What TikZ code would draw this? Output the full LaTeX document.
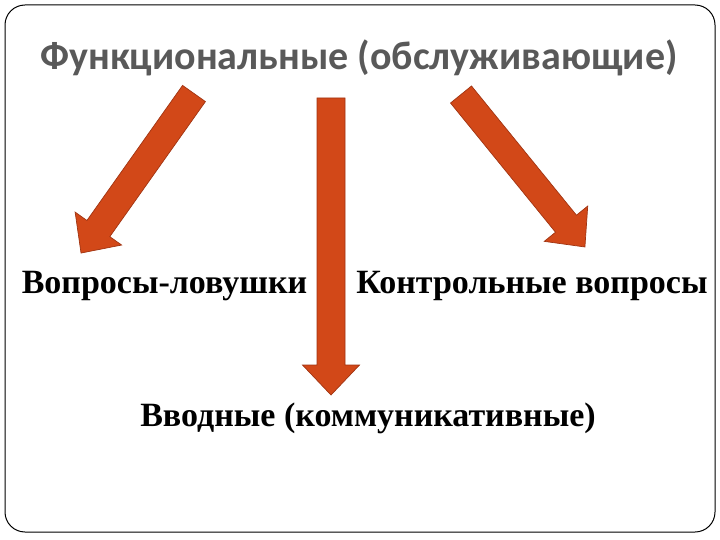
\documentclass[tikz,border=0pt]{standalone}
\usepackage{fontspec}
\setmainfont{Liberation Serif}
\newfontfamily\titlefont{Carlito}
\definecolor{arrfill}{RGB}{210,72,24}
\definecolor{arrdraw}{RGB}{160,52,18}
\definecolor{titlegray}{RGB}{89,89,89}
\begin{document}
\begin{tikzpicture}[x=1pt,y=-1pt,
  bigarrow/.style={fill=arrfill,draw=arrdraw,line width=0.7pt,line join=miter},
  titletext/.style={font=\titlefont\bfseries\fontsize{40}{48}\selectfont,text=titlegray,anchor=base,inner sep=0pt},
  labeltext/.style={font=\bfseries\fontsize{34}{40}\selectfont,text=black,anchor=base,inner sep=0pt}]
\useasboundingbox (0,0) rectangle (720,540);
\draw[line width=1pt,rounded corners=20pt] (5,5) rectangle (715,532);
\node[titletext] (title) at (359,70) {Функциональные (обслуживающие)};
% left arrow
\begin{scope}[shift={(194,93.5)},rotate=-125.3]
\filldraw[bigarrow] (0,-14) -- (165.5,-14) -- (165.5,-28.5) -- (195.5,0) -- (165.5,28.5) -- (165.5,14) -- (0,14) -- cycle;
\end{scope}
% middle arrow
\begin{scope}[shift={(331,98)},rotate=-90]
\filldraw[bigarrow] (0,-14) -- (267,-14) -- (267,-28.5) -- (297,0) -- (267,28.5) -- (267,14) -- (0,14) -- cycle;
\end{scope}
% right arrow
\begin{scope}[shift={(461,94.5)},rotate=-50.9]
\filldraw[bigarrow] (0,-13.5) -- (166.5,-13.5) -- (166.5,-28) -- (196.5,0) -- (166.5,28) -- (166.5,13.5) -- (0,13.5) -- cycle;
\end{scope}
\node[labeltext] (trap) at (164.5,293) {Вопросы-ловушки};
\node[labeltext] (control) at (532,293) {Контрольные вопросы};
\node[labeltext] (intro) at (368,426) {Вводные (коммуникативные)};
\end{tikzpicture}
\end{document}
